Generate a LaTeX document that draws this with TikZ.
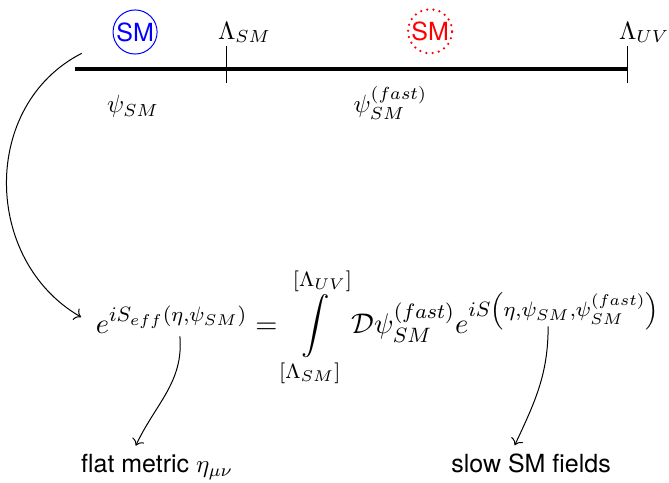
\documentclass[tikz,border=0pt]{standalone}
\usepackage{fontspec}
\setsansfont{TeX Gyre Heros}
\usepackage{amsmath}
\usepackage{amssymb}
\usepackage{tikz}
\usetikzlibrary{arrows.meta,calc,positioning}
\definecolor{slowBlue}{HTML}{0000FF}
\definecolor{fastRed}{HTML}{FF0000}
\tikzset{
  fieldCircle/.style={circle,minimum size=0.62cm,inner sep=0pt,font=\sffamily},
  cutLabel/.style={anchor=base west,inner sep=0pt}
}
\begin{document}
\begin{tikzpicture}[scale=1.0]
\useasboundingbox (0,0) rectangle (9.41,6.78);
\coordinate (lineStart) at (1.05,5.81);
\coordinate (tickSM) at (3.18,5.81);
\coordinate (tickUV) at (8.82,5.81);
\draw[ultra thick] (lineStart)--(tickUV);
\draw ($(tickSM)+(0,-0.2)$)--($(tickSM)+(0,0.32)$);
\draw ($(tickUV)+(0,-0.2)$)--($(tickUV)+(0,0.32)$);
\node[cutLabel] (lamSM) at (3.06,6.23) {$\Lambda_{SM}$};
\node[cutLabel] (lamUV) at (8.70,6.23) {$\Lambda_{UV}$};
\node[fieldCircle,draw=slowBlue,text=slowBlue] (smSlow) at (1.90,6.33) {SM};
\node[fieldCircle,draw=fastRed,text=fastRed,dash pattern=on 0pt off 2.5pt,line cap=round,line width=1pt] (smFast) at (6.05,6.34) {SM};
\node[anchor=base] (psiSlow) at (1.87,5.20) {$\psi_{SM}$};
\node[anchor=base] (psiFast) at (5.49,5.20) {$\psi_{SM}^{(fast)}$};
\node[anchor=base west,font=\fontsize{10.95}{13.6}\selectfont,scale=1.04,transform shape] (eq) at (1.22,2.09)
  {$\displaystyle e^{iS_{eff}(\eta,\psi_{SM})}=\int\limits_{[\Lambda_{SM}]}^{[\Lambda_{UV}]}\mathcal{D}\psi_{SM}^{(fast)}e^{iS\left(\eta,\psi_{SM},\psi_{SM}^{(fast)}\right)}$};
\node[anchor=base] (flat) at (2.21,0.13) {\sffamily flat metric $\eta_{\mu\nu}$};
\node[anchor=base] (slow) at (7.47,0.13) {\sffamily slow SM fields};
\coordinate (arcStart) at (1.15,6.03);
\coordinate (arcEnd) at (1.14,2.32);
\coordinate (etaArg) at (2.53,2.05);
\coordinate (psiArg) at (7.71,2.19);
\draw[->] (arcStart) to[out=207,in=150,looseness=1.1] (arcEnd);
\draw[->] (etaArg) to[out=-85,in=65] ($(flat.north)+(-0.3,0)$);
\draw[->] (psiArg) to[out=-90,in=65] ($(slow.north)+(-0.23,0)$);
\end{tikzpicture}
\end{document}
